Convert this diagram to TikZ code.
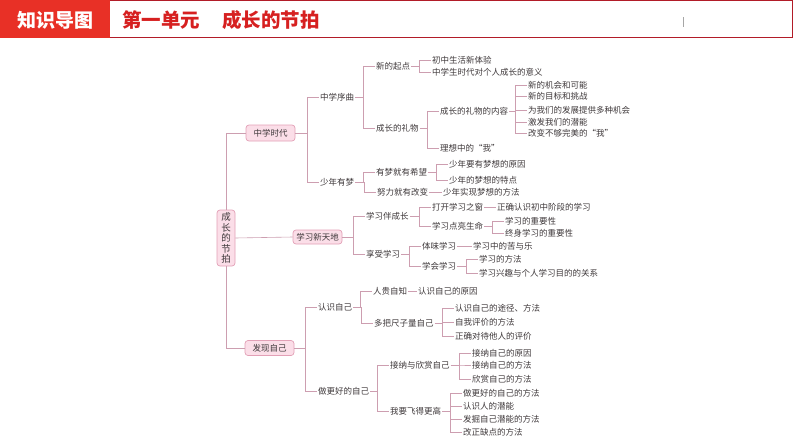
\documentclass[tikz,border=0pt]{standalone}
\usepackage{fontspec}
\usepackage{xcolor}
\usepackage{tikz}
\usetikzlibrary{positioning, calc}
\newfontfamily\cjk{Noto Sans CJK SC}
\definecolor{headred}{RGB}{232, 48, 38}
\definecolor{titlered}{RGB}{214, 32, 32}
\definecolor{borderred}{RGB}{178, 28, 40}
\definecolor{ink}{RGB}{62, 56, 58}
\definecolor{linkpink}{RGB}{205, 158, 176}
\definecolor{boxfill}{RGB}{251, 222, 232}
\definecolor{boxline}{RGB}{226, 160, 182}
\tikzset{
  font=\cjk,
  leaf/.style={
    anchor=west, inner sep=1pt, text=ink,
    font=\cjk\fontsize{8.5}{10}\selectfont
  },
  topicbox/.style={
    rectangle, rounded corners=3pt, draw=boxline, fill=boxfill, line width=0.7pt,
    minimum width=49pt, minimum height=15pt, inner sep=1pt, text=ink,
    font=\cjk\fontsize{8.5}{10}\selectfont
  },
  rootbox/.style={
    topicbox, minimum width=18pt, minimum height=56pt,
    align=center, font=\cjk\fontsize{9.5}{10.6}\selectfont
  },
  link/.style={draw=linkpink, line width=0.6pt},
  branch/.style={to path={-| ([xshift=-12pt]\tikztotarget.west) -- (\tikztotarget.west)}}
}

\begin{document}
\begin{tikzpicture}[x=1pt, y=-1pt]

  \useasboundingbox (0,0) rectangle (794,447);

  % Header bar
  \fill[headred] (0,0) rectangle (110,38);
  \node[text=white, font=\cjk\bfseries\fontsize{19}{20}\selectfont] (head) at (55,20) {知识导图};
  \draw[borderred, line width=1.1pt] (110,0.6) -- (792.5,0.6) -- (792.5,37.4) -- (110,37.4);
  \node[anchor=west, inner sep=0pt, text=titlered, font=\cjk\bfseries\fontsize{19.5}{20}\selectfont] (title) at (122,20) {第一单元\hspace{22pt}成长的节拍};
  \draw[black!35, line width=0.5pt] (683,17) -- (683,27);

  % Root and first level
  \node[rootbox] (root) at (226,238) {成\\长\\的\\节\\拍};
  \node[topicbox, minimum height=16pt] (era) at (270.5,133) {中学时代};
  \node[topicbox, minimum height=14pt] (study) at (317.5,237) {学习新天地};
  \node[topicbox] (self) at (269.5,348) {发现自己};

  \draw[link] (root.north) |- (era.west);
  \draw[link] (root.east) -- (study.west);
  \draw[link] (root.south) |- (self.west);

  % 中学时代
  \node[leaf] (prelude) at (319,97) {中学序曲};
  \node[leaf] (dream) at (319,182) {少年有梦};
  \node[leaf] (start) at (375,66) {新的起点};
  \node[leaf] (start1) at (431,60) {初中生活新体验};
  \node[leaf] (start2) at (431,72) {中学生时代对个人成长的意义};
  \node[leaf] (gift) at (375,128) {成长的礼物};
  \node[leaf] (giftc) at (439,111) {成长的礼物的内容};
  \node[leaf] (giftc1) at (527,85) {新的机会和可能};
  \node[leaf] (giftc2) at (527,96.5) {新的目标和挑战};
  \node[leaf] (giftc3) at (527,110) {为我们的发展提供多种机会};
  \node[leaf] (giftc4) at (527,122) {激发我们的潜能};
  \node[leaf] (giftc5) at (527,133) {改变不够完美的“我”};
  \node[leaf] (ideal) at (439,148) {理想中的“我”};
  \node[leaf] (hope) at (375,172) {有梦就有希望};
  \node[leaf] (hope1) at (448,164) {少年要有梦想的原因};
  \node[leaf] (hope2) at (448,180) {少年的梦想的特点};
  \node[leaf] (effort) at (376,192) {努力就有改变};
  \node[leaf] (effort1) at (442,192) {少年实现梦想的方法};

  \foreach \c in {prelude,dream} \draw[link] (era.east) to[branch] (\c);
  \foreach \c in {start,gift} \draw[link] (prelude.east) to[branch] (\c);
  \foreach \c in {start1,start2} \draw[link] (start.east) to[branch] (\c);
  \foreach \c in {giftc,ideal} \draw[link] (gift.east) to[branch] (\c);
  \foreach \c in {giftc1,giftc2,giftc3,giftc4,giftc5} \draw[link] (giftc.east) to[branch] (\c);
  \foreach \c in {hope,effort} \draw[link] (dream.east) to[branch] (\c);
  \foreach \c in {hope1,hope2} \draw[link] (hope.east) to[branch] (\c);
  \draw[link] (effort.east) -- (effort1.west);

  % 学习新天地
  \node[leaf] (grow) at (365,216) {学习伴成长};
  \node[leaf] (window) at (431,207) {打开学习之窗};
  \node[leaf] (window1) at (496,207) {正确认识初中阶段的学习};
  \node[leaf] (light) at (431,226) {学习点亮生命};
  \node[leaf] (light1) at (504,221) {学习的重要性};
  \node[leaf] (light2) at (504,233) {终身学习的重要性};
  \node[leaf] (enjoy) at (365,254) {享受学习};
  \node[leaf] (taste) at (421,246) {体味学习};
  \node[leaf] (taste1) at (472,246) {学习中的苦与乐};
  \node[leaf] (learn) at (421,266) {学会学习};
  \node[leaf] (learn1) at (478,259) {学习的方法};
  \node[leaf] (learn2) at (478,273) {学习兴趣与个人学习目的的关系};

  \foreach \c in {grow,enjoy} \draw[link] (study.east) to[branch] (\c);
  \foreach \c in {window,light} \draw[link] (grow.east) to[branch] (\c);
  \draw[link] (window.east) -- (window1.west);
  \foreach \c in {light1,light2} \draw[link] (light.east) to[branch] (\c);
  \foreach \c in {taste,learn} \draw[link] (enjoy.east) to[branch] (\c);
  \draw[link] (taste.east) -- (taste1.west);
  \foreach \c in {learn1,learn2} \draw[link] (learn.east) to[branch] (\c);

  % 发现自己
  \node[leaf] (know) at (317,307) {认识自己};
  \node[leaf] (wise) at (372,291) {人贵自知};
  \node[leaf] (wise1) at (417,291) {认识自己的原因};
  \node[leaf] (ruler) at (373,323) {多把尺子量自己};
  \node[leaf] (ruler1) at (454,308) {认识自己的途径、方法};
  \node[leaf] (ruler2) at (454,322) {自我评价的方法};
  \node[leaf] (ruler3) at (454,336) {正确对待他人的评价};
  \node[leaf] (better) at (317,391) {做更好的自己};
  \node[leaf] (accept) at (389,365) {接纳与欣赏自己};
  \node[leaf] (accept1) at (471,353) {接纳自己的原因};
  \node[leaf] (accept2) at (471,365) {接纳自己的方法};
  \node[leaf] (accept3) at (471,379) {欣赏自己的方法};
  \node[leaf] (fly) at (389,411) {我要飞得更高};
  \node[leaf] (fly1) at (462,393) {做更好的自己的方法};
  \node[leaf] (fly2) at (462,406) {认识人的潜能};
  \node[leaf] (fly3) at (462,419) {发掘自己潜能的方法};
  \node[leaf] (fly4) at (462,432) {改正缺点的方法};

  \foreach \c in {know,better} \draw[link] (self.east) to[branch] (\c);
  \foreach \c in {wise,ruler} \draw[link] (know.east) to[branch] (\c);
  \draw[link] (wise.east) -- (wise1.west);
  \foreach \c in {ruler1,ruler2,ruler3} \draw[link] (ruler.east) to[branch] (\c);
  \foreach \c in {accept,fly} \draw[link] (better.east) to[branch] (\c);
  \foreach \c in {accept1,accept2,accept3} \draw[link] (accept.east) to[branch] (\c);
  \foreach \c in {fly1,fly2,fly3,fly4} \draw[link] (fly.east) to[branch] (\c);

\end{tikzpicture}
\end{document}
